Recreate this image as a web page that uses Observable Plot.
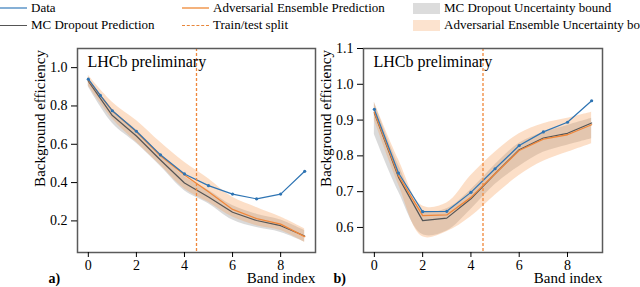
<!DOCTYPE html>
<html><head><meta charset="utf-8">
<script src="https://cdn.jsdelivr.net/npm/d3@7"></script>
<script src="https://cdn.jsdelivr.net/npm/@observablehq/plot@0.6"></script>
<style>
html,body{margin:0;padding:0;background:#fff;overflow:hidden;}
#root{position:relative;width:640px;height:287px;overflow:hidden;font-family:"Liberation Serif","Times New Roman",serif;color:#000;background:#fff;}
.leg{position:absolute;font-size:13px;white-space:nowrap;height:16px;display:flex;align-items:center;}
.sw{display:inline-block;width:27px;margin-right:4px;box-sizing:border-box;}
.panel{position:absolute;top:40px;}
</style></head><body><div id="root"></div>
<script>
// ---- data ----
const bandIndex = [0,1,2,3,4,5,6,7,8,9];
const splitAt = 4.5;

// panel a
const aDataX = [0,0.5,1,2,3,4,5,6,7,8,9];
const aData  = [0.94,0.855,0.775,0.668,0.545,0.445,0.384,0.340,0.315,0.340,0.459];
const aAdv   = [0.935,0.775,0.665,0.54,0.44,0.352,0.26,0.212,0.183,0.118];
const aMC    = [0.93,0.75,0.643,0.518,0.398,0.325,0.245,0.202,0.175,0.121];
const aAdvLo = [0.905,0.732,0.61,0.49,0.367,0.297,0.22,0.175,0.15,0.088];
const aAdvHi = [0.96,0.82,0.724,0.61,0.506,0.42,0.323,0.27,0.22,0.158];
const aMCLo  = [0.90,0.71,0.605,0.485,0.358,0.29,0.205,0.165,0.14,0.09];
const aMCHi  = [0.95,0.78,0.675,0.55,0.43,0.36,0.28,0.235,0.205,0.15];
const aYTicks = [0.2,0.4,0.6,0.8,1.0];

// panel b
const bDataX = [0,1,2,3,4,5,6,7,8,9];
const bData  = [0.93,0.752,0.644,0.645,0.698,0.764,0.829,0.867,0.894,0.954];
const bAdv   = [0.922,0.745,0.633,0.635,0.684,0.75,0.815,0.847,0.859,0.887];
const bMC    = [0.92,0.74,0.619,0.626,0.68,0.75,0.817,0.85,0.863,0.892];
const bAdvLo = [0.90,0.72,0.574,0.588,0.63,0.69,0.745,0.785,0.81,0.834];
const bAdvHi = [0.95,0.79,0.66,0.668,0.745,0.81,0.862,0.89,0.905,0.922];
const bMCLo  = [0.86,0.70,0.58,0.59,0.65,0.72,0.77,0.81,0.83,0.848];
const bMCHi  = [0.95,0.775,0.648,0.652,0.705,0.775,0.835,0.865,0.885,0.905];
const bYTicks = [0.6,0.7,0.8,0.9,1.0,1.1];

const xTicks = [0,2,4,6,8];
const legendLabels = ["Data","MC Dropout Prediction","Adversarial Ensemble Prediction","Train/test split","MC Dropout Uncertainty bound","Adversarial Ensemble Uncertainty bound"];
const yLabel = "Background efficiency";
const xLabel = "Band index";
const stamp = "LHCb preliminary";

// ---- colors ----
const C_BLUE = "#2e74b3", C_ORANGE = "#f0873a", C_GRAY = "#555555";

function panel(o){
  const rows = (lo, hi, mid) => bandIndex.map((x,i)=>({x, lo:lo[i], hi:hi[i], mid: mid ? mid[i] : null}));
  const mc = rows(o.mcLo,o.mcHi,o.mc);
  const adv = rows(o.advLo,o.advHi,o.adv);
  const data = o.dataX.map((x,i)=>({x, y:o.data[i]}));
  return Plot.plot({
    width: o.w, height: 247,
    marginLeft: o.ml, marginRight: o.mr, marginTop: 8, marginBottom: 35,
    style: {fontFamily: '"Liberation Serif","Times New Roman",serif', fontSize: "14px", color: "#000", background: "transparent"},
    x: {domain: [-0.45, 9.45]},
    y: {domain: o.ydom},
    marks: [
      Plot.areaY(mc, {x:"x", y1:"lo", y2:"hi", fill:"#8c8c8c", fillOpacity:0.32, curve:"catmull-rom"}),
      Plot.areaY(adv, {x:"x", y1:"lo", y2:"hi", fill:"#f5a25d", fillOpacity:0.34, curve:"catmull-rom"}),
      Plot.lineY(mc, {x:"x", y:"mid", stroke:C_GRAY, strokeWidth:1.2}),
      Plot.lineY(adv, {x:"x", y:"mid", stroke:C_ORANGE, strokeWidth:1.3}),
      Plot.lineY(data, {x:"x", y:"y", stroke:C_BLUE, strokeWidth:1.2}),
      Plot.dot(data, {x:"x", y:"y", r:1.6, fill:C_BLUE}),
      Plot.ruleX([splitAt], {stroke:C_ORANGE, strokeWidth:1.3, strokeDasharray:"3,2"}),
      Plot.frame({stroke:"#5a5a5a", strokeWidth:1.5}),
      Plot.axisX({ticks: xTicks, tickSize:5, tickPadding:3, label:null, tickFormat: d3.format("d")}),
      Plot.axisY({ticks: o.yticks, tickSize:6, tickPadding:4, label:null, tickFormat: d3.format(".1f")}),
      Plot.text([stamp], {frameAnchor:"top-left", dx:10, dy:7, lineAnchor:"top", textAnchor:"start", fontSize:16}),
      Plot.text([yLabel], {frameAnchor:"left", rotate:-90, dx:-37, dy:-32, textAnchor:"middle", lineAnchor:"middle", fontSize:15}),
      Plot.text([xLabel], {frameAnchor:"bottom-right", dy:26, textAnchor:"end", lineAnchor:"middle", fontSize:15}),
      Plot.text([o.tag], {frameAnchor:"bottom-left", dx:o.tagDx, dy:26, textAnchor:"start", lineAnchor:"middle", fontSize:14, fontWeight:"bold"})
    ]
  });
}

const root = document.getElementById("root");

// legend
const legSpecs = [
  {left:0, top:0, sw:"border-top:2.5px solid #86b0d6;height:0"},
  {left:0, top:17, sw:"border-top:1px solid #555;height:0"},
  {left:182, top:0, sw:"border-top:2.5px solid #f4b27c;height:0"},
  {left:182, top:17, sw:"border-top:1px dashed #e8863a;height:0"},
  {left:413, top:0, sw:"background:#dcdcdc;height:11px"},
  {left:413, top:17, sw:"background:#fce3cf;height:11px"}
];
legendLabels.forEach((lab,i)=>{
  const s = legSpecs[i];
  const d = document.createElement("div");
  d.className = "leg";
  d.style.left = s.left+"px"; d.style.top = s.top+"px";
  const sw = document.createElement("span");
  sw.className = "sw"; sw.style.cssText += s.sw;
  d.appendChild(sw);
  const t = document.createElement("span"); t.textContent = lab;
  d.appendChild(t);
  root.appendChild(d);
});

const pa = panel({w:318, dataX:aDataX, data:aData, adv:aAdv, mc:aMC, advLo:aAdvLo, advHi:aAdvHi, mcLo:aMCLo, mcHi:aMCHi, ydom:[0.035,1.1], yticks:aYTicks, ml:77, mr:3, tag:"a)", tagDx:-29});
pa.classList.add("panel"); pa.style.left = "0px";
root.appendChild(pa);
const pb = panel({w:322, dataX:bDataX, data:bData, adv:bAdv, mc:bMC, advLo:bAdvLo, advHi:bAdvHi, mcLo:bMCLo, mcHi:bMCHi, ydom:[0.53,1.1], yticks:bYTicks, ml:45, mr:38, tag:"b)", tagDx:-30});
pb.classList.add("panel"); pb.style.left = "318px";
root.appendChild(pb);
</script>
</body></html>
